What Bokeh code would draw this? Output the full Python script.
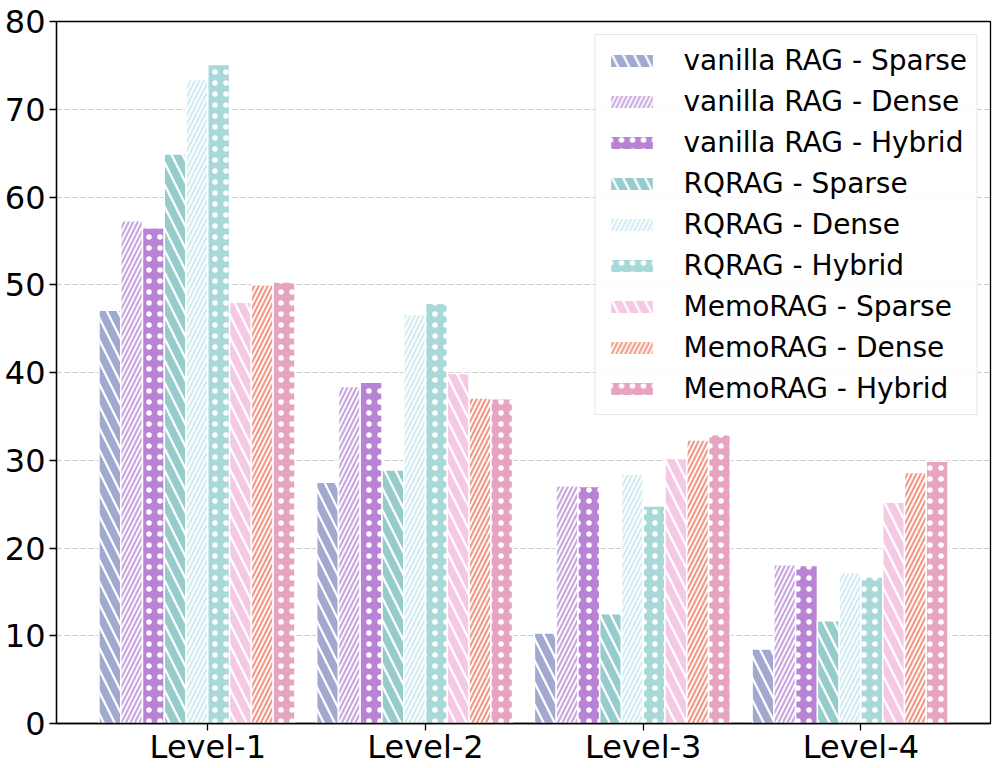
from bokeh.plotting import figure
from bokeh.models import Range1d, FixedTicker
from bokeh.embed import file_html
from bokeh.resources import INLINE

# ---------------- data ----------------
levels = ["Level-1", "Level-2", "Level-3", "Level-4"]

vanilla_sparse = [47.1, 27.5, 10.3, 8.5]
vanilla_dense = [57.3, 38.4, 27.1, 18.1]
vanilla_hybrid = [56.5, 38.9, 27.0, 18.0]
rqrag_sparse = [64.9, 28.9, 12.5, 11.7]
rqrag_dense = [73.4, 46.6, 28.4, 17.2]
rqrag_hybrid = [75.1, 47.9, 24.8, 16.7]
memorag_sparse = [48.0, 39.9, 30.2, 25.2]
memorag_dense = [50.0, 37.1, 32.3, 28.6]
memorag_hybrid = [50.3, 37.0, 32.9, 29.9]

series_names = [
    "vanilla RAG - Sparse", "vanilla RAG - Dense", "vanilla RAG - Hybrid",
    "RQRAG - Sparse", "RQRAG - Dense", "RQRAG - Hybrid",
    "MemoRAG - Sparse", "MemoRAG - Dense", "MemoRAG - Hybrid",
]
series_values = [
    vanilla_sparse, vanilla_dense, vanilla_hybrid,
    rqrag_sparse, rqrag_dense, rqrag_hybrid,
    memorag_sparse, memorag_dense, memorag_hybrid,
]
colors = [
    "#A1A9D0", "#C9A8E0", "#B883D4",
    "#96CCCB", "#D2ECF2", "#A8D9D8",
    "#F5C8E3", "#F19A88", "#E6A4C0",
]
y_ticks = [0, 10, 20, 30, 40, 50, 60, 70, 80]

# hatch style per retriever type
hatch_styles = {
    "Sparse": dict(hatch_pattern="left_diagonal_line", hatch_scale=22, hatch_weight=2.3),
    "Dense": dict(hatch_pattern="right_diagonal_line", hatch_scale=9, hatch_weight=1.8),
    "Hybrid": dict(hatch_pattern="dot", hatch_scale=11, hatch_weight=1.6),
}

FONT = "DejaVu Sans"
bar_w = 0.1

p = figure(
    width=996, height=768,
    output_backend="svg", toolbar_location=None,
    x_range=Range1d(-0.695, 3.595), y_range=Range1d(0, 80),
    min_border_left=56, min_border_top=21, min_border_right=6, min_border_bottom=44,
)
p.background_fill_color = "white"
p.border_fill_color = "white"

for i, (name, vals, col) in enumerate(zip(series_names, series_values, colors)):
    kind = name.split(" - ")[1]
    xs = [k + (i - 4.5) * bar_w for k in range(len(levels))]
    p.vbar(
        x=xs, top=vals, width=bar_w, bottom=0,
        fill_color=col, line_color="white", line_width=1.5,
        hatch_color="white", legend_label=name, **hatch_styles[kind],
    )

# axes
p.xaxis.ticker = FixedTicker(ticks=list(range(len(levels))))
p.xaxis.major_label_overrides = {i: lab for i, lab in enumerate(levels)}
p.yaxis.ticker = FixedTicker(ticks=y_ticks)
for ax in (p.xaxis, p.yaxis):
    ax.major_label_text_font = FONT
    ax.major_label_text_font_size = "32px"
    ax.major_label_text_color = "black"
    ax.major_tick_out = 7
    ax.major_tick_in = 0
    ax.minor_tick_out = 0
    ax.minor_tick_in = 0
    ax.axis_line_color = "black"
    ax.axis_line_width = 1.3
    ax.major_tick_line_color = "black"
    ax.major_tick_line_width = 1.3
p.xaxis.major_label_standoff = -3
p.yaxis.major_label_standoff = 4

p.outline_line_color = "black"
p.outline_line_width = 1.3
p.outline_line_alpha = 1.0

# grid
p.xgrid.grid_line_color = None
p.ygrid.grid_line_color = "#b0b0b0"
p.ygrid.grid_line_alpha = 0.7
p.ygrid.grid_line_dash = "5 3"
p.ygrid.grid_line_width = 1.2
p.ygrid.level = "underlay"

# legend
lg = p.legend[0]
lg.location = "top_right"
lg.margin = 13
lg.padding = 9
lg.spacing = 8
lg.glyph_width = 54
lg.glyph_height = 17
lg.label_standoff = 25
lg.label_text_font = FONT
lg.label_text_font_size = "28px"
lg.label_text_color = "black"
lg.border_line_color = "#cccccc"
lg.border_line_width = 1.5
lg.background_fill_color = "white"
lg.background_fill_alpha = 0.85

open("out.html", "w").write(file_html(p, INLINE))
